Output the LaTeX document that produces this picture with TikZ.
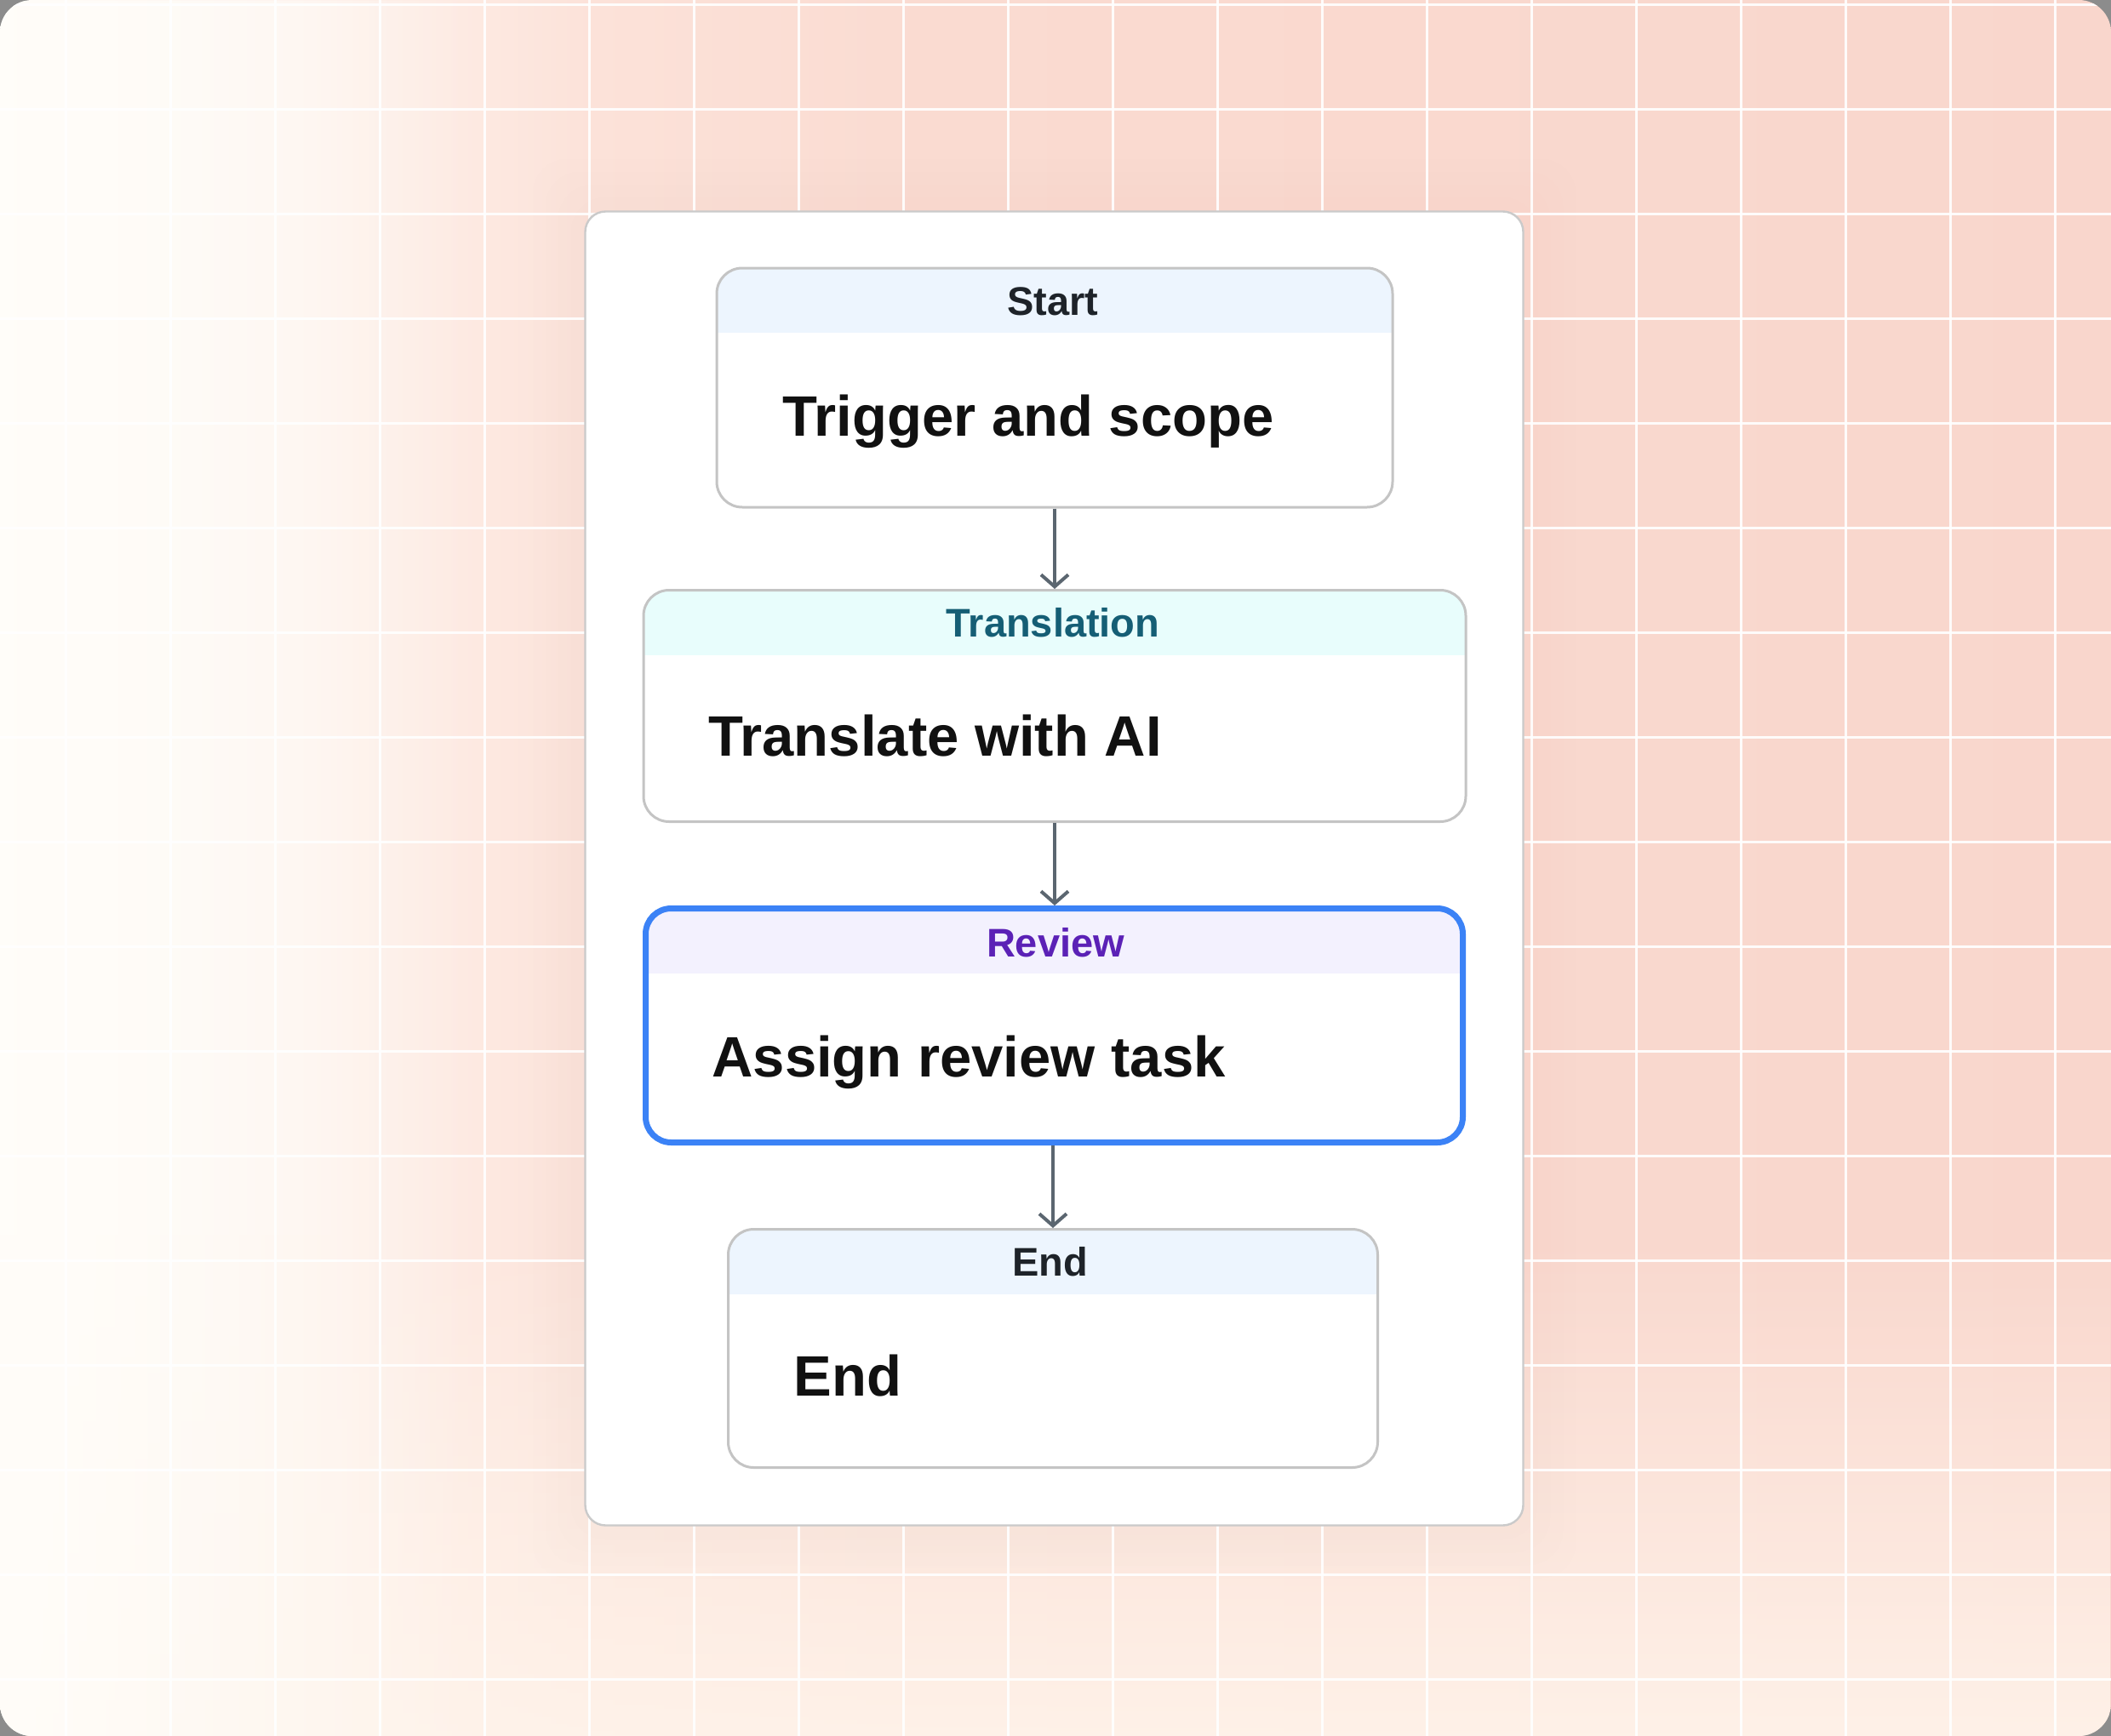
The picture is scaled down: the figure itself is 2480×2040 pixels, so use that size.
\documentclass[tikz,border=0pt]{standalone}
\usepackage{fontspec}
\setmainfont{Liberation Sans}
\usetikzlibrary{arrows.meta,calc,fadings}
\definecolor{bgA}{HTML}{FFFDF9}
\definecolor{bgB}{HTML}{FEF4EE}
\definecolor{bgC}{HTML}{FCE2D9}
\definecolor{bgD}{HTML}{FADBD1}
\definecolor{bgE}{HTML}{F9D6CC}
\definecolor{cream}{HTML}{FFF4EB}
\definecolor{glowc}{HTML}{F8CDBF}
\definecolor{cornergray}{HTML}{8C8C8C}
\definecolor{cardborder}{HTML}{CACACA}
\definecolor{boxborder}{HTML}{C4C4C4}
\definecolor{headblue}{HTML}{EDF5FE}
\definecolor{headcyan}{HTML}{E8FDFC}
\definecolor{headlav}{HTML}{F3F1FE}
\definecolor{txtdark}{HTML}{1E2329}
\definecolor{txtteal}{HTML}{155E75}
\definecolor{txtpurple}{HTML}{5B21B6}
\definecolor{blueb}{HTML}{3B82F6}
\definecolor{arrowc}{HTML}{5B6670}
\definecolor{maintext}{HTML}{111111}
\pgfdeclarehorizontalshading{bgshade}{100bp}{color(0bp)=(bgA); color(25bp)=(bgA); color(32bp)=(bgB); color(39bp)=(bgC); color(47bp)=(bgD); color(75bp)=(bgE); color(100bp)=(bgE)}
\tikzfading[name=fadebottom, top color=transparent!100, bottom color=transparent!10]
\tikzfading[name=fadeleft, left color=transparent!0, right color=transparent!100]
\begin{document}
\begin{tikzpicture}[x=0.5pt,y=-0.5pt,
  gridline/.style={draw=white, line width=1.5pt, opacity=0.9},
  card/.style={draw=cardborder, line width=1.2pt, rounded corners=12pt, fill=white, inner sep=0pt, minimum width=551pt, minimum height=772pt},
  stepbox/.style={draw=boxborder, line width=1.5pt, rounded corners=15pt, fill=white, inner sep=0pt},
  band/.style={path picture={\fill[#1, sharp corners] (path picture bounding box.north west) rectangle ([yshift=-38pt]path picture bounding box.north east);}},
  headtxt/.style={font=\bfseries\fontsize{23.5pt}{28pt}\selectfont, inner sep=0pt, anchor=base},
  maintxt/.style={font=\bfseries\fontsize{33.5pt}{40pt}\selectfont, text=maintext, inner sep=0pt, anchor=base west},
  arr/.style={draw=arrowc, line width=2pt, -{Straight Barb[length=7pt,width=16pt]}}
]
\useasboundingbox (0,0) rectangle (2480,2040);
\fill[cornergray] (0,0) rectangle (2480,2040);
\begin{scope}
  \clip[rounded corners=19pt] (0,0) rectangle (2480,2040);
  \shade[shading=bgshade] (0,0) rectangle (2480,2040);
  \fill[cream, path fading=fadebottom] (0,1450) rectangle (2480,2040);
  \fill[bgA, path fading=fadeleft] (0,0) rectangle (560,2040);
  \foreach \r in {15,30,45,60}
    \fill[glowc, opacity=0.015, rounded corners=20pt] (686-\r,247-\r) rectangle (1791+\r,1794+\r);
  \foreach \i in {0,...,19}
    \draw[gridline] ({77+123*\i},0) -- ({77+123*\i},2040);
  \foreach \j in {0,...,16}
    \draw[gridline] (0,{5+123*\j}) -- (2480,{5+123*\j});
\end{scope}

\node[card] (card) at (1238.5,1020.5) {};

\node[stepbox, band=headblue, minimum width=397pt, minimum height=140.5pt] (start) at (1239,455.5) {};
\node[stepbox, band=headcyan, minimum width=483pt, minimum height=136pt] (trans) at (1239,829.5) {};
\node[stepbox, band=headlav, draw=blueb, line width=3.5pt, minimum width=480pt, minimum height=137.5pt] (review) at (1238.5,1205) {};
\node[stepbox, band=headblue, minimum width=381.5pt, minimum height=140pt] (end) at (1237,1584.5) {};

\node[headtxt, text=txtdark] (starth) at (1237,370) {Start};
\node[maintxt] (startt) at (919,512) {Trigger and scope};
\node[headtxt, text=txtteal] (transh) at (1237,748) {Translation};
\node[maintxt] (transt) at (832,888) {Translate with AI};
\node[headtxt, text=txtpurple] (reviewh) at (1240,1124.5) {Review};
\node[maintxt] (reviewt) at (836,1265) {Assign review task};
\node[headtxt, text=txtdark] (endh) at (1234,1499) {End};
\node[maintxt] (endt) at (932,1640) {End};

\draw[arr] (start.south) -- (start.south |- trans.north);
\draw[arr] (trans.south) -- (trans.south |- review.north);
\draw[arr] (end.north |- review.south) -- (end.north);
\end{tikzpicture}
\end{document}
